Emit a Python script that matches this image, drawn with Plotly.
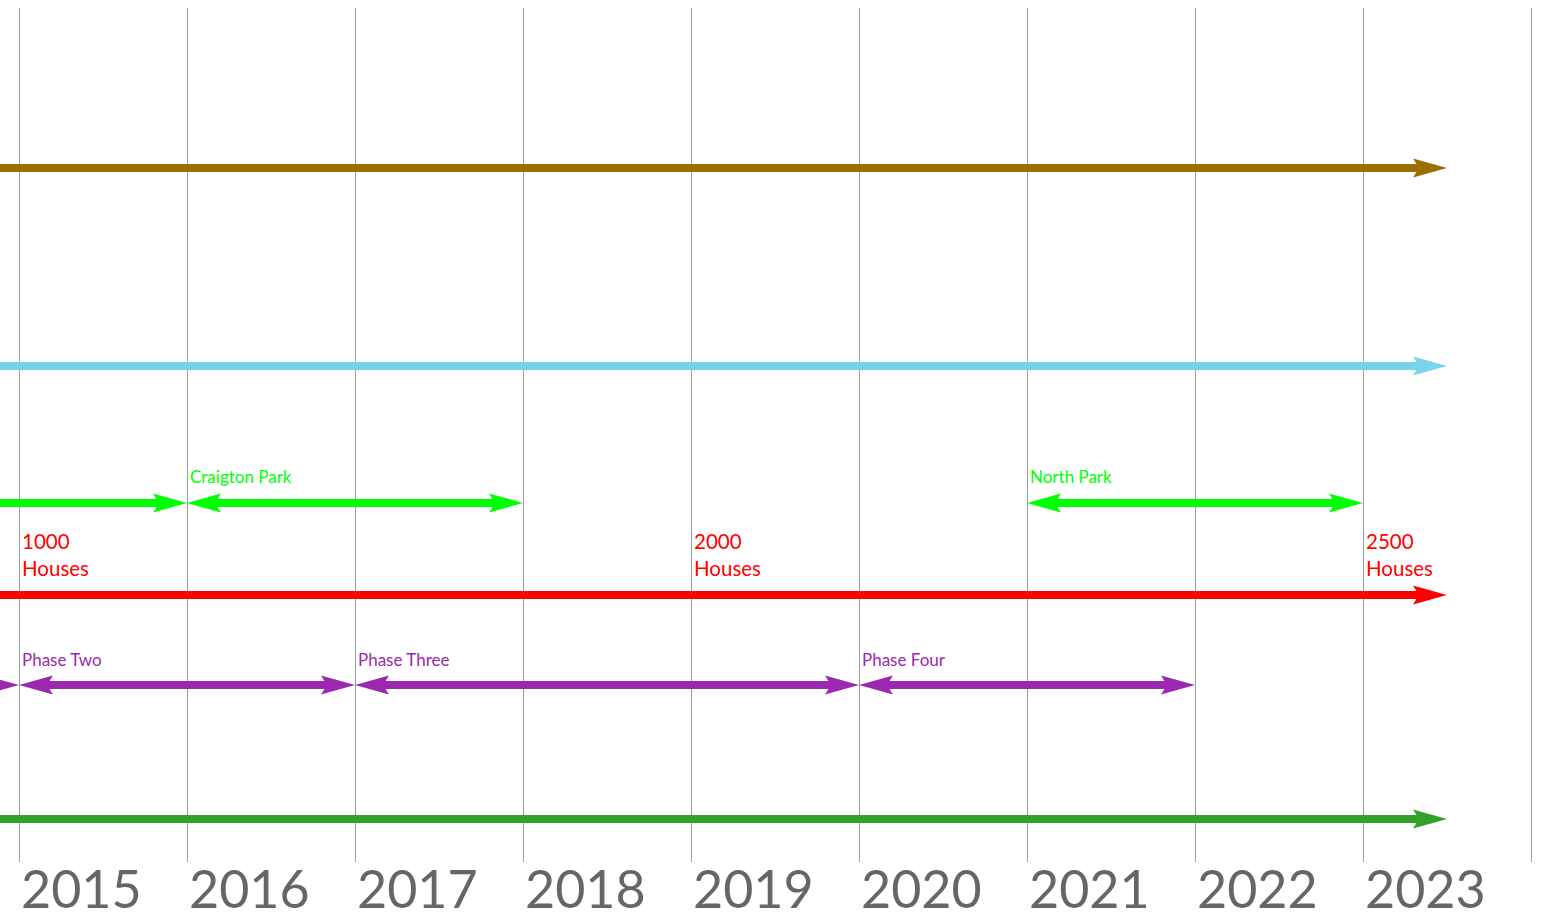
import plotly.graph_objects as go

# ---------------- data ----------------
year_ticks = list(range(2015, 2025))
year_labels = [str(y) for y in range(2015, 2024)]

track_colors = ["#9B6E00", "#7AD3E6", "#00FF00", "#FF0000", "#9C27B0", "#33A02C"]
track_y = [168, 366, 503, 595, 685, 819]

seg_track = [0, 1, 2, 2, 2, 3, 4, 4, 4, 4, 5]
seg_start = [2014, 2014, 2014, 2016, 2021, 2014, 2014, 2015, 2017, 2020, 2014]
seg_end = [2023.5, 2023.5, 2016, 2018, 2023, 2023.5, 2015, 2017, 2020, 2022, 2023.5]
seg_double = [False, False, False, True, True, False, False, True, True, True, False]

label_track = [2, 2, 3, 3, 3, 4, 4, 4]
label_x = [2016, 2021, 2015, 2019, 2023, 2015, 2017, 2020]
label_text = ["Craigton Park", "North Park", "1000<br>Houses", "2000<br>Houses",
              "2500<br>Houses", "Phase Two", "Phase Three", "Phase Four"]
label_size = [17, 17, 20.5, 20.5, 20.5, 17, 17, 17]
label_shift = [27, 27, 41, 41, 41, 26, 26, 26]

# ---------------- layout constants ----------------
W, H = 1548, 918
PX_PER_YEAR = 168
XMIN = 2015 - 19 / PX_PER_YEAR
XMAX = XMIN + W / PX_PER_YEAR
LINE_W = 8
HEAD_L, HEAD_HW, HEAD_NOTCH = 34, 9.6, 28
INSET = 20 / PX_PER_YEAR
FONT = "Lato, 'Open Sans', sans-serif"

fig = go.Figure()
fig.add_trace(go.Scatter(x=[XMIN], y=[track_y[0]], mode="markers",
                         marker=dict(opacity=0), hoverinfo="skip", showlegend=False))

shapes = []
for t, s, e, d in zip(seg_track, seg_start, seg_end, seg_double):
    col = track_colors[t]
    y = track_y[t]
    x0 = s + INSET if d else s
    x1 = e - INSET
    shapes.append(dict(type="line", xref="x", yref="y", x0=x0, x1=x1, y0=y, y1=y,
                       line=dict(color=col, width=LINE_W), layer="above"))
    shapes.append(dict(type="path", xref="x", yref="y", xsizemode="pixel", ysizemode="pixel",
                       xanchor=e, yanchor=y,
                       path=f"M0,0 L{-HEAD_L},{-HEAD_HW} L{-HEAD_NOTCH},0 L{-HEAD_L},{HEAD_HW} Z",
                       fillcolor=col, line=dict(width=0), layer="above"))
    if d:
        shapes.append(dict(type="path", xref="x", yref="y", xsizemode="pixel", ysizemode="pixel",
                           xanchor=s, yanchor=y,
                           path=f"M0,0 L{HEAD_L},{-HEAD_HW} L{HEAD_NOTCH},0 L{HEAD_L},{HEAD_HW} Z",
                           fillcolor=col, line=dict(width=0), layer="above"))

annotations = []
for t, x, txt, sz, sh in zip(label_track, label_x, label_text, label_size, label_shift):
    annotations.append(dict(x=x, y=track_y[t], xref="x", yref="y", text=txt, showarrow=False,
                            xanchor="left", yanchor="middle", align="left", xshift=1, yshift=sh,
                            font=dict(family=FONT, size=sz, color=track_colors[t])))

for yr, lab in zip(year_ticks, year_labels):
    annotations.append(dict(x=yr, y=0, xref="x", yref="paper", text=lab, showarrow=False,
                            xanchor="left", yanchor="middle", xshift=0, yshift=-26,
                            font=dict(family=FONT, size=52, color="#666666")))

fig.update_layout(
    width=W, height=H,
    margin=dict(l=0, r=0, t=8, b=56),
    paper_bgcolor="white", plot_bgcolor="white",
    showlegend=False,
    shapes=shapes,
    annotations=annotations,
    xaxis=dict(range=[XMIN, XMAX], tickmode="array", tickvals=year_ticks,
               showticklabels=False, showgrid=True, gridcolor="#9E9E9E", gridwidth=1,
               zeroline=False, showline=False, ticks="", fixedrange=True),
    yaxis=dict(range=[862, 8], showgrid=False, showticklabels=False, zeroline=False,
               showline=False, ticks="", fixedrange=True),
)

fig.write_html("out.html", config={"displayModeBar": False},
               post_script="document.body.style.margin='0';document.body.style.overflow='hidden';")
